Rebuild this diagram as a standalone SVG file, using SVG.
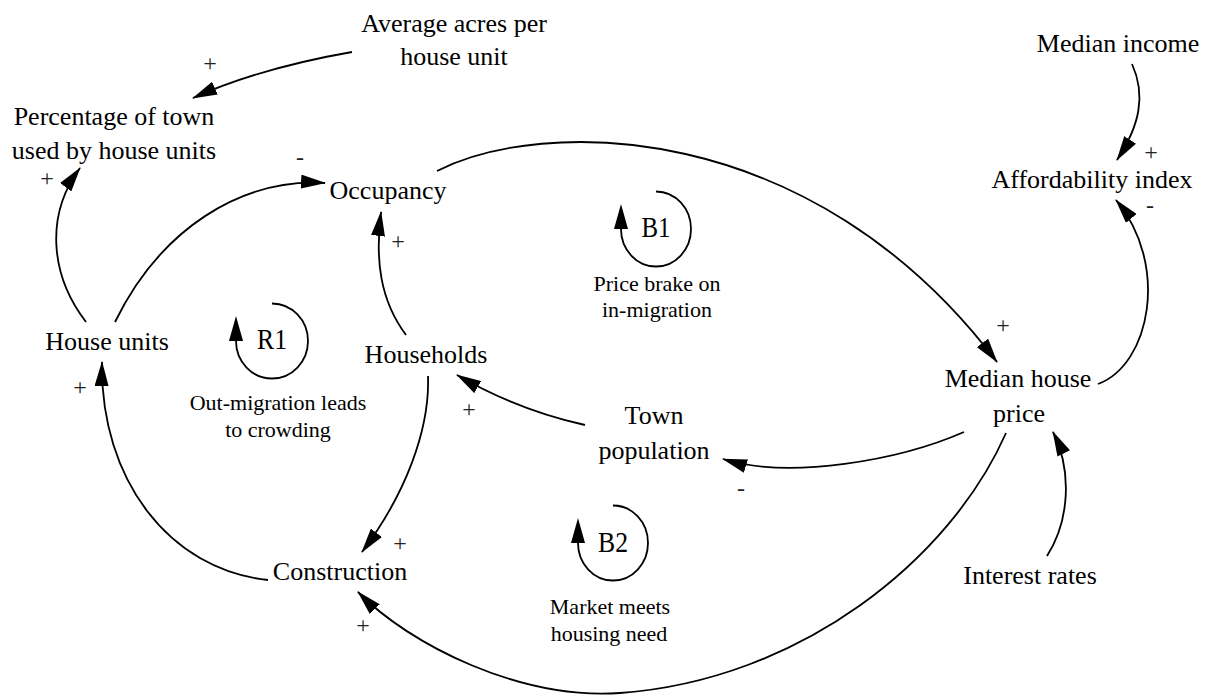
<svg xmlns="http://www.w3.org/2000/svg" width="1215" height="695" viewBox="0 0 1215 695">
<style>
text{font-family:"Liberation Serif","Times New Roman",serif;fill:#000}
.n{font-size:26px;text-anchor:middle}
.d{font-size:22px;text-anchor:middle}
.l{font-size:30px;text-anchor:middle}
.s{font-size:24px;text-anchor:middle;fill:#222}
.c{fill:none;stroke:#000;stroke-width:1.8}
</style>
<defs>
<marker id="ah" viewBox="0 0 25 14" refX="24" refY="7" markerWidth="25" markerHeight="14" markerUnits="userSpaceOnUse" orient="auto"><path d="M0,0 L25,7 L0,14 Z" fill="#000"/></marker>
<marker id="lh" viewBox="0 0 25 14" refX="0" refY="7" markerWidth="25" markerHeight="14" markerUnits="userSpaceOnUse" orient="auto"><path d="M0,0 L25,7 L0,14 Z" fill="#000"/></marker>
</defs>
<rect width="1215" height="695" fill="#fff"/>
<g id="connectors">
<path class="c" marker-end="url(#ah)" d="M352,52 Q260,68 193,98"/>
<path class="c" marker-end="url(#ah)" d="M86,322 C50,275 45,215 80,168"/>
<path class="c" marker-end="url(#ah)" d="M115,322 C160,230 240,178 325,183"/>
<path class="c" marker-end="url(#ah)" d="M406,335 C380,300 375,260 381,212"/>
<path class="c" marker-end="url(#ah)" d="M437,171 C540,118 810,115 997,362"/>
<path class="c" marker-end="url(#ah)" d="M1132,64 C1146,95 1140,125 1117,160"/>
<path class="c" marker-end="url(#ah)" d="M1098,384 C1150,365 1170,265 1116,200"/>
<path class="c" marker-end="url(#ah)" d="M964,432 C900,460 790,480 723,459"/>
<path class="c" marker-end="url(#ah)" d="M1006,433 C950,560 800,680 620,693 C520,700 410,645 358,592"/>
<path class="c" marker-end="url(#ah)" d="M1047,556 C1070,520 1072,470 1053,432"/>
<path class="c" marker-end="url(#ah)" d="M428,376 C430,430 405,495 362,552"/>
<path class="c" marker-end="url(#ah)" d="M268,580 C170,570 100,480 102,362"/>
<path class="c" marker-end="url(#ah)" d="M585,425 C540,415 500,400 457,375"/>
</g>
<g id="polarities">
<text class="s" x="210" y="71">+</text>
<text class="s" x="47" y="186">+</text>
<text class="s" x="300" y="165">-</text>
<text class="s" x="398" y="249">+</text>
<text class="s" x="1003" y="333">+</text>
<text class="s" x="1151" y="160">+</text>
<text class="s" x="1150" y="213">-</text>
<text class="s" x="80" y="395">+</text>
<text class="s" x="400" y="551">+</text>
<text class="s" x="363" y="633">+</text>
<text class="s" x="469" y="417">+</text>
<text class="s" x="741" y="496">-</text>
</g>
<g id="avg-acres"><text class="n" x="454" y="32">Average acres per</text><text class="n" x="454" y="65">house unit</text></g>
<g id="pct-town"><text class="n" x="114" y="125">Percentage of town</text><text class="n" x="114" y="159">used by house units</text></g>
<g id="occupancy"><text class="n" x="388" y="199">Occupancy</text></g>
<g id="median-income"><text class="n" x="1118" y="52">Median income</text></g>
<g id="affordability"><text class="n" x="1092" y="188">Affordability index</text></g>
<g id="house-units"><text class="n" x="107" y="350">House units</text></g>
<g id="households"><text class="n" x="426" y="363">Households</text></g>
<g id="median-price"><text class="n" x="1018" y="387">Median house</text><text class="n" x="1019" y="422">price</text></g>
<g id="town-pop"><text class="n" x="654" y="424">Town</text><text class="n" x="654" y="459">population</text></g>
<g id="construction"><text class="n" x="340" y="580">Construction</text></g>
<g id="interest"><text class="n" x="1030" y="584">Interest rates</text></g>
<g id="loop-r1">
<path class="c" marker-end="url(#lh)" d="M272,303.5 A36,37.5 0 1 1 236,341"/>
<text class="l" x="272" y="349" textLength="30" lengthAdjust="spacingAndGlyphs">R1</text>
<text class="d" x="278" y="410">Out-migration leads</text><text class="d" x="278" y="437">to crowding</text>
</g>
<g id="loop-b1">
<path class="c" marker-end="url(#lh)" d="M656,191.5 A35,37.5 0 1 1 621,229"/>
<text class="l" x="656" y="237" textLength="29" lengthAdjust="spacingAndGlyphs">B1</text>
<text class="d" x="657" y="291">Price brake on</text><text class="d" x="657" y="317">in-migration</text>
</g>
<g id="loop-b2">
<path class="c" marker-end="url(#lh)" d="M613,505.5 A35,37.5 0 1 1 578,543"/>
<text class="l" x="613" y="552" textLength="30" lengthAdjust="spacingAndGlyphs">B2</text>
<text class="d" x="610" y="614">Market meets</text><text class="d" x="609" y="641">housing need</text>
</g>
</svg>
